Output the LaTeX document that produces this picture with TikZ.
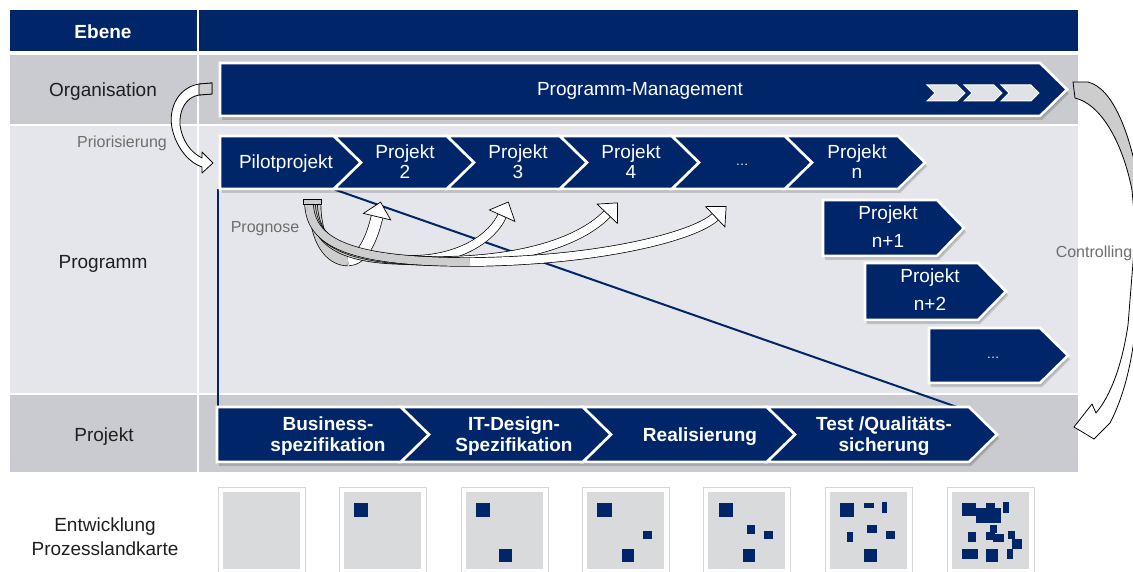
\documentclass[tikz,border=0pt]{standalone}
\usepackage{fontspec}
\setmainfont{Liberation Sans}
\usetikzlibrary{shapes.geometric}
\definecolor{navy}{RGB}{0,38,105}
\definecolor{rowdark}{RGB}{201,203,208}
\definecolor{rowlight}{RGB}{229,230,235}
\definecolor{boxgray}{RGB}{216,218,219}
\definecolor{labgray}{RGB}{110,110,110}
\definecolor{backgray}{RGB}{205,205,205}
\definecolor{smallchev}{RGB}{225,226,230}

\tikzset{
  chev/.style={fill=navy, draw=white, line width=2.6pt, line join=miter},
  schev/.style={fill=smallchev, draw=white, line width=1pt, line join=miter},
  shad/.style={fill=black, opacity=.16},
  band/.style={draw=black, line width=.7pt, double distance=#1},
  bhead/.style={isosceles triangle, isosceles triangle stretches, draw=black, fill=white,
    line width=.7pt, minimum width=28pt, minimum height=15pt, inner sep=0pt,
    anchor=west, sloped, allow upside down, pos=1},
  blockarrow/.style={draw=black, line width=.8pt, line join=round},
  hdr/.style={font=\bfseries\fontsize{19}{22}\selectfont, text=white},
  lbl/.style={font=\fontsize{19}{24}\selectfont, text=black!88, align=center},
  wtxt/.style={font=\fontsize{19}{20}\selectfont, text=white, align=center},
  wtxtb/.style={font=\fontsize{19}{28}\selectfont, text=white, align=center},
  wdots/.style={font=\fontsize{13}{14}\selectfont, text=white},
  wbold/.style={font=\bfseries\fontsize{19}{21}\selectfont, text=white, align=center},
  glbl/.style={font=\fontsize{16}{18}\selectfont, text=labgray},
}

% notched chevron: x1 x2 y1 y2 d
\newcommand\mychevN[5]{%
  \path[chev] (#1,#3) -- (#2,#3) -- ({#2+#5},{(#3+#4)/2}) -- (#2,#4) -- (#1,#4) -- ({#1+#5},{(#3+#4)/2}) -- cycle;}
% pentagon: x1 x2 y1 y2 d
\newcommand\mychevP[5]{%
  \path[chev] (#1,#3) -- (#2,#3) -- ({#2+#5},{(#3+#4)/2}) -- (#2,#4) -- (#1,#4) -- cycle;}
% shadow of pentagon
\newcommand\mychevS[5]{%
  \fill[shad] ({#1+1},{#3+2}) -- ({#2+1},{#3+2}) -- ({#2+#5+1},{(#3+#4)/2+2}) -- ({#2+1},{#4+2}) -- ({#1+1},{#4+2}) -- cycle;
  \fill[shad] ({#1+2},{#3+4}) -- ({#2+2},{#3+4}) -- ({#2+#5+2},{(#3+#4)/2+4}) -- ({#2+2},{#4+4}) -- ({#1+2},{#4+4}) -- cycle;}
% small chevron at x0
\newcommand\mysmallchev[1]{%
  \path[schev] (#1,85) -- ({#1+30},85) -- ({#1+38},93) -- ({#1+30},101) -- (#1,101) -- ({#1+8},93) -- cycle;}
% prognose arrow: start c1 c2 bottom c3 c4 end width
\newcommand\progarrow[8]{%
  \draw[band=#8, double=backgray] #1 .. controls #2 and #3 .. #4;
  \draw[band=#8, double=white] #4 .. controls #5 and #6 .. #7;
  \path #4 .. controls #5 and #6 .. #7 node[bhead]{};}
% bottom box at ix
\newcommand\mybox[1]{%
  \fill[black!14] ({#1-3},489) rectangle ({#1+83},577);
  \filldraw[fill=white, draw=black!16, line width=.6pt] ({#1-5},487) rectangle ({#1+82},575);
  \fill[boxgray] (#1,492) rectangle ({#1+77},569);}

\begin{document}
\begin{tikzpicture}[x=1pt,y=-1pt]
\fill[white] (0,0) rectangle (1133,572);
\useasboundingbox (0,0) rectangle (1133,572);

% table
\fill[navy] (10,10) rectangle (197,51);
\fill[navy] (199,10) rectangle (1078,51);
\fill[rowdark] (10,55) rectangle (197,124);
\fill[rowdark] (199,55) rectangle (1078,124);
\fill[rowlight] (10,126) rectangle (197,393);
\fill[rowlight] (199,126) rectangle (1078,393);
\fill[rowdark] (10,395) rectangle (197,472);
\fill[rowdark] (199,395) rectangle (1078,472);

% funnel lines
\coordinate (fl1) at (218,189);
\coordinate (fl2) at (218,407);
\coordinate (fr1) at (333,189);
\coordinate (fr2) at (957,407);
\draw[navy, line width=2pt] (fl1) -- (fl2);
\draw[navy, line width=2pt] (fr1) -- (fr2);

% shadows
\mychevS{220}{1040}{63}{116}{27}
\mychevS{220}{898}{136}{189}{27}
\mychevS{823}{937}{200}{256}{27}
\mychevS{865}{978}{263}{320}{28}
\mychevS{929}{1040}{328}{383}{28}
\mychevS{217}{969}{407}{462}{28}

% Programm-Management
\mychevP{220}{1040}{63}{116}{27}
\mysmallchev{927}
\mysmallchev{964}
\mysmallchev{1001}

% Programm row
\mychevP{220}{334}{136}{189}{27}
\mychevN{334}{447}{136}{189}{27}
\mychevN{447}{560}{136}{189}{27}
\mychevN{560}{672}{136}{189}{27}
\mychevN{672}{785}{136}{189}{27}
\mychevN{785}{898}{136}{189}{27}
\mychevP{823}{937}{200}{256}{27}
\mychevP{865}{978}{263}{320}{28}
\mychevP{929}{1040}{328}{383}{28}

% Projekt row
\mychevP{217}{401}{407}{462}{28}
\mychevN{401}{583}{407}{462}{28}
\mychevN{583}{767}{407}{462}{28}
\mychevN{767}{969}{407}{462}{28}

% Prognose arrows
\progarrow{(315,203)}{(315,240)}{(330,260)}{(348,260)}{(363,260)}{(372,238)}{(377,217)}{11pt}
\progarrow{(313,203)}{(314,242)}{(340,260)}{(410,260)}{(462,260)}{(493,236)}{(502,216)}{8pt}
\progarrow{(311,203)}{(312,242)}{(345,261)}{(440,261)}{(540,260)}{(588,234)}{(607,214)}{8pt}
\progarrow{(309,203)}{(310,243)}{(350,262)}{(470,262)}{(600,261)}{(695,236)}{(715,217)}{8pt}
\filldraw[fill=backgray, draw=black, line width=.7pt] (303,199) rectangle (321,204);

% Priorisierung arrow
\filldraw[blockarrow, fill=white] (212,83) -- (199,84) .. controls (176,88) and (167,112) .. (173,132)
  .. controls (178,150) and (190,163) .. (202,167) -- (202,173) -- (213,163) -- (202,152) -- (202,158)
  .. controls (190,152) and (182,140) .. (180,125) .. controls (179,110) and (186,97) .. (199,95) -- (212,94) -- cycle;
\filldraw[blockarrow, fill=backgray] (212,83) -- (199,84) -- (199,95) -- (212,94) -- cycle;

% Controlling arrow
\filldraw[blockarrow, fill=backgray] (1073,82) -- (1088,82) .. controls (1112,88) and (1130,130) .. (1140,190)
  -- (1146,260) -- (1138,260) -- (1132,190) .. controls (1122,140) and (1100,104) .. (1075,98) -- cycle;
\filldraw[blockarrow, fill=white] (1143,250) -- (1136,322) .. controls (1132,365) and (1123,398) .. (1110,423)
  -- (1094,439) -- (1074,427) -- (1092,404) -- (1096,413)
  .. controls (1111,395) and (1122,365) .. (1128,325) -- (1134,250) -- cycle;

% bottom boxes
\mybox{223}\mybox{344}\mybox{466}\mybox{587}\mybox{708}\mybox{830}\mybox{952}
\begin{scope}[shift={(344,492)}]
  \fill[navy] (10,11) rectangle (24,25);
\end{scope}
\begin{scope}[shift={(466,492)}]
  \fill[navy] (10,11) rectangle (24,25);
  \fill[navy] (33,57) rectangle (46,70);
\end{scope}
\begin{scope}[shift={(587,492)}]
  \fill[navy] (10,11) rectangle (25,25);
  \fill[navy] (56,39) rectangle (65,47);
  \fill[navy] (35,57) rectangle (47,70);
\end{scope}
\begin{scope}[shift={(708,492)}]
  \fill[navy] (11,11) rectangle (25,25);
  \fill[navy] (39,33) rectangle (47,42);
  \fill[navy] (56,39) rectangle (65,47);
  \fill[navy] (35,57) rectangle (47,70);
\end{scope}
\begin{scope}[shift={(830,492)}]
  \fill[navy] (10,11) rectangle (24,25);
  \fill[navy] (34,11) rectangle (44,16);
  \fill[navy] (52,10) rectangle (57,21);
  \fill[navy] (17,40) rectangle (23,50);
  \fill[navy] (37,33) rectangle (47,41);
  \fill[navy] (56,39) rectangle (65,47);
  \fill[navy] (34,57) rectangle (47,70);
\end{scope}
\begin{scope}[shift={(952,492)}]
  \fill[navy] (10,11) rectangle (24,24);
  \fill[navy] (24,16) rectangle (49,31);
  \fill[navy] (34,11) rectangle (43,18);
  \fill[navy] (51,10) rectangle (57,21);
  \fill[navy] (16,40) rectangle (24,50);
  \fill[navy] (38,33) rectangle (45,41);
  \fill[navy] (34,40) rectangle (43,48);
  \fill[navy] (41,42) rectangle (52,50);
  \fill[navy] (56,39) rectangle (63,47);
  \fill[navy] (60,47) rectangle (70,57);
  \fill[navy] (55,57) rectangle (61,67);
  \fill[navy] (10,57) rectangle (26,67);
  \fill[navy] (34,57) rectangle (46,70);
\end{scope}

% texts
\node[hdr] (ebene) at (103,32) {Ebene};
\node[lbl] (org) at (103,92) {Organisation};
\node[lbl] (prog) at (103,264) {Programm};
\node[lbl] (proj) at (104,437) {Projekt};
\node[lbl] (ent) at (105,537) {Entwicklung\\Prozesslandkarte};

\node[wtxt] (pm) at (640,91) {Programm-Management};
\node[wtxt] (pilot) at (286,164) {Pilotprojekt};
\node[wtxt] (p2) at (405,162) {Projekt\\2};
\node[wtxt] (p3) at (518,162) {Projekt\\3};
\node[wtxt] (p4) at (631,162) {Projekt\\4};
\node[wdots] (dots1) at (742,165) {…};
\node[wtxt] (pn) at (857,162) {Projekt\\n};
\node[wtxtb] (pn1) at (888,227) {Projekt\\n+1};
\node[wtxtb] (pn2) at (930,290) {Projekt\\n+2};
\node[wdots] (dots2) at (993,358) {…};

\node[wbold] (bs) at (328,436) {Business-\\spezifikation};
\node[wbold] (it) at (514,436) {IT-Design-\\Spezifikation};
\node[wbold] (re) at (700,437) {Realisierung};
\node[wbold] (ts) at (884,436) {Test /Qualitäts-\\sicherung};

\node[glbl] (prio) at (122,143) {Priorisierung};
\node[glbl] (progn) at (265,229) {Prognose};
\node[glbl] (ctrl) at (1094,253) {Controlling};
\end{tikzpicture}
\end{document}
